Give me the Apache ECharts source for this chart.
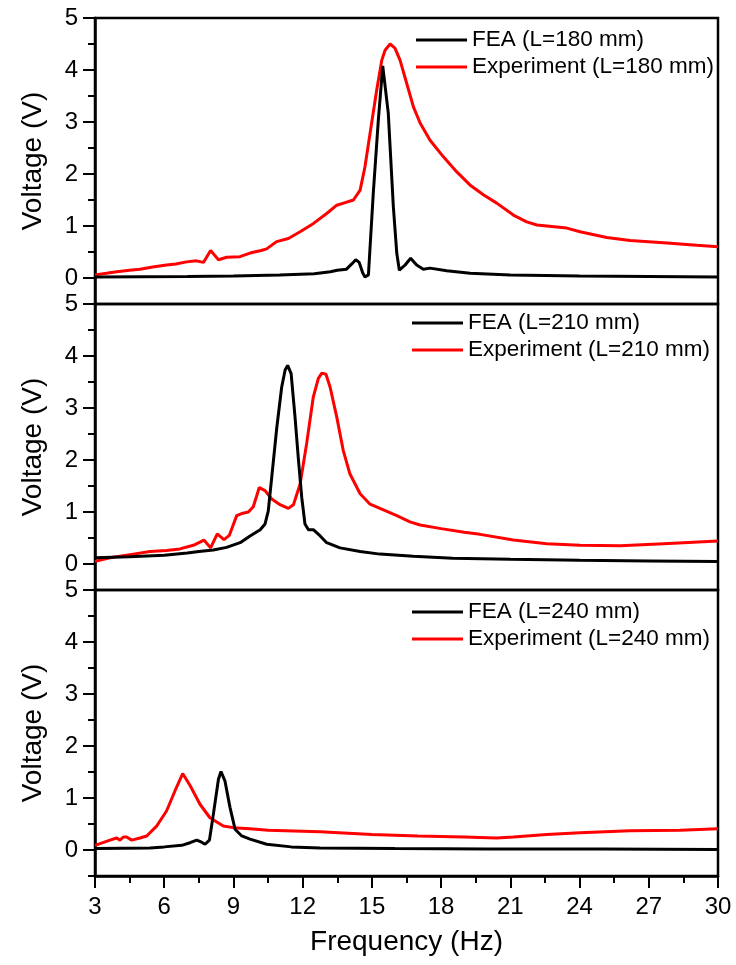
<!DOCTYPE html>
<html>
<head>
<meta charset="utf-8">
<script src="https://cdn.jsdelivr.net/npm/echarts@6/dist/echarts.min.js"></script>
<style>
html,body{margin:0;padding:0;background:#fff;}
#chart{width:736px;height:965px;}
</style>
</head>
<body>
<div id="chart"></div>
<script>
// ---- data ----
var seriesNames = [
  ['FEA (L=180 mm)', 'Experiment (L=180 mm)'],
  ['FEA (L=210 mm)', 'Experiment (L=210 mm)'],
  ['FEA (L=240 mm)', 'Experiment (L=240 mm)']
];
var xTickValues = [3, 6, 9, 12, 15, 18, 21, 24, 27, 30];
var yMajorTicks = [0, 1, 2, 3, 4, 5];
var yMinorTicks = [-0.5, 0.5, 1.5, 2.5, 3.5, 4.5];

var fea180 = [[3,0.02],[5,0.025],[7,0.03],[9,0.04],[11,0.06],[12.5,0.08],[13.2,0.12],[13.5,0.15],[13.9,0.17],[14.15,0.28],[14.3,0.35],[14.45,0.3],[14.6,0.1],[14.7,0.02],[14.85,0.06],[15.06,1.63],[15.28,3.04],[15.47,4.08],[15.71,3.17],[15.93,1.37],[16.08,0.47],[16.19,0.15],[16.44,0.25],[16.68,0.38],[16.94,0.25],[17.23,0.17],[17.52,0.19],[18.24,0.14],[19.26,0.09],[21,0.06],[24,0.04],[27,0.03],[30,0.02]];
var exp180 = [[3,0.06],[3.5,0.09],[3.94,0.12],[4.5,0.15],[4.95,0.17],[5.5,0.21],[6.1,0.25],[6.5,0.27],[6.97,0.31],[7.4,0.33],[7.7,0.3],[8.01,0.53],[8.35,0.35],[8.71,0.4],[9.28,0.41],[9.72,0.48],[10.2,0.53],[10.44,0.56],[10.87,0.7],[11.38,0.76],[11.89,0.89],[12.47,1.05],[13.04,1.24],[13.48,1.4],[13.84,1.45],[14.2,1.5],[14.49,1.69],[14.7,2.14],[14.92,2.78],[15.21,3.62],[15.43,4.19],[15.57,4.38],[15.79,4.5],[16.0,4.42],[16.22,4.19],[16.51,3.74],[16.8,3.29],[17.09,2.98],[17.52,2.65],[18.1,2.33],[18.68,2.04],[19.25,1.79],[19.83,1.6],[20.41,1.44],[21.13,1.21],[21.71,1.08],[22.15,1.02],[23.45,0.96],[24.02,0.89],[25.18,0.78],[26.19,0.72],[27.64,0.68],[29.08,0.63],[30,0.6]];

var fea210 = [[3,0.12],[4.5,0.14],[6,0.17],[7,0.21],[7.5,0.24],[8.13,0.27],[8.7,0.32],[9.29,0.41],[9.72,0.54],[10.16,0.66],[10.37,0.77],[10.51,1.02],[10.66,1.67],[10.88,2.63],[11.09,3.4],[11.24,3.73],[11.35,3.82],[11.5,3.66],[11.67,2.82],[11.82,1.99],[11.96,1.28],[12.1,0.77],[12.25,0.66],[12.46,0.66],[12.76,0.54],[13.04,0.41],[13.62,0.31],[14.49,0.24],[15.35,0.19],[16.8,0.15],[18.5,0.11],[21,0.09],[24,0.07],[27,0.06],[30,0.05]];
var exp210 = [[3,0.05],[3.65,0.12],[4.66,0.19],[5.38,0.24],[6.1,0.26],[6.68,0.29],[7.26,0.36],[7.55,0.42],[7.72,0.46],[8.01,0.31],[8.3,0.58],[8.59,0.47],[8.82,0.55],[9.14,0.93],[9.36,0.97],[9.65,1.0],[9.86,1.1],[10.12,1.47],[10.37,1.41],[10.66,1.25],[11.02,1.14],[11.38,1.07],[11.6,1.14],[11.89,1.54],[12.17,2.31],[12.46,3.21],[12.68,3.57],[12.83,3.67],[13.01,3.65],[13.19,3.4],[13.48,2.82],[13.76,2.18],[14.05,1.73],[14.49,1.35],[14.92,1.15],[15.5,1.04],[16.08,0.93],[16.65,0.81],[17.09,0.75],[18,0.68],[19,0.61],[19.69,0.57],[21.13,0.46],[22.58,0.39],[24.02,0.36],[25.76,0.35],[27.64,0.39],[30,0.44]];

var fea240 = [[3,0.03],[5.38,0.04],[6,0.06],[6.76,0.09],[7.12,0.14],[7.41,0.19],[7.62,0.15],[7.77,0.11],[7.96,0.19],[8.13,0.69],[8.35,1.36],[8.46,1.51],[8.63,1.33],[8.85,0.82],[9.07,0.4],[9.36,0.27],[9.72,0.21],[10.44,0.11],[11.5,0.06],[12.75,0.04],[16,0.03],[20,0.02],[25,0.02],[30,0.01]];
var exp240 = [[3,0.09],[3.65,0.19],[3.94,0.23],[4.08,0.19],[4.23,0.25],[4.37,0.25],[4.59,0.19],[4.95,0.23],[5.24,0.27],[5.67,0.46],[6.1,0.75],[6.47,1.14],[6.8,1.47],[7.12,1.24],[7.55,0.88],[7.98,0.62],[8.56,0.46],[8.99,0.43],[9.72,0.41],[10.5,0.38],[12.75,0.35],[15,0.3],[17,0.27],[19,0.25],[19.69,0.24],[20.41,0.23],[21.13,0.25],[22.58,0.3],[24.02,0.33],[26.19,0.37],[28.36,0.38],[30,0.41]];

var panelData = [[fea180, exp180], [fea210, exp210], [fea240, exp240]];

// ---- chart ----
var FONT = '"Liberation Sans", Arial, sans-serif';
var gridTops = [18, 304, 590];
var gridH = 286;
var legendTops = [28, 311, 600];
var legendLefts = [416, 412, 412];
var AX_W = 2.5;

var grids = [], xAxes = [], yAxes = [], series = [], legends = [];
for (var i = 0; i < 3; i++) {
  grids.push({left: 95, right: 18, top: gridTops[i], height: gridH, show: true,
    borderColor: '#000', borderWidth: AX_W, backgroundColor: 'transparent'});
  var isBottom = (i === 2);
  xAxes.push({
    type: 'value', gridIndex: i, min: 3, max: 30, interval: 3,
    axisLine: {show: isBottom, onZero: false, lineStyle: {color: '#000', width: AX_W}},
    axisTick: {show: isBottom, length: 12, lineStyle: {color: '#000', width: 2}},
    minorTick: {show: isBottom, splitNumber: 2, length: 7, lineStyle: {color: '#000', width: 2}},
    axisLabel: {show: isBottom, fontSize: 24, margin: 19, color: '#000', fontFamily: FONT},
    splitLine: {show: false},
    name: isBottom ? 'Frequency (Hz)' : '',
    nameLocation: 'middle', nameGap: 52,
    nameTextStyle: {fontSize: 28, color: '#000', fontFamily: FONT}
  });
  yAxes.push({
    type: 'value', gridIndex: i, min: -0.5, max: 5, interval: 0.5, position: 'left',
    axisLine: {show: true, onZero: false, lineStyle: {color: '#000', width: AX_W}},
    axisTick: {show: true, length: 12, customValues: yMajorTicks, lineStyle: {color: '#000', width: 2}},
    axisLabel: {show: true, customValues: yMajorTicks, fontSize: 24, margin: 17, color: '#000', fontFamily: FONT},
    splitLine: {show: false},
    name: 'Voltage (V)', nameLocation: 'middle', nameGap: 48,
    nameTextStyle: {fontSize: 28, color: '#000', fontFamily: FONT}
  });
  yAxes.push({
    type: 'value', gridIndex: i, min: -0.5, max: 5, interval: 0.5, position: 'left', offset: 0,
    axisLine: {show: false},
    axisTick: {show: true, length: 7, customValues: yMinorTicks, lineStyle: {color: '#000', width: 2}},
    axisLabel: {show: false},
    splitLine: {show: false}
  });
  series.push({
    name: seriesNames[i][0], type: 'line', xAxisIndex: i, yAxisIndex: i * 2,
    data: panelData[i][0], symbol: 'none', smooth: false,
    lineStyle: {color: '#000', width: 3}, itemStyle: {color: '#000'}, z: 3
  });
  series.push({
    name: seriesNames[i][1], type: 'line', xAxisIndex: i, yAxisIndex: i * 2,
    data: panelData[i][1], symbol: 'none', smooth: false,
    lineStyle: {color: '#ff0000', width: 3}, itemStyle: {color: '#ff0000'}, z: 2
  });
  legends.push({
    data: seriesNames[i], orient: 'vertical', left: legendLefts[i], top: legendTops[i],
    icon: 'rect', itemWidth: 51, itemHeight: 3, itemGap: 3, padding: 0,
    textStyle: {fontSize: 22.5, lineHeight: 24, color: '#000', fontFamily: FONT},
    selectedMode: false
  });
}

var chart = echarts.init(document.getElementById('chart'), null, {renderer: 'canvas'});
chart.setOption({
  animation: false,
  backgroundColor: '#fff',
  grid: grids, xAxis: xAxes, yAxis: yAxes, series: series, legend: legends
});
</script>
</body>
</html>
